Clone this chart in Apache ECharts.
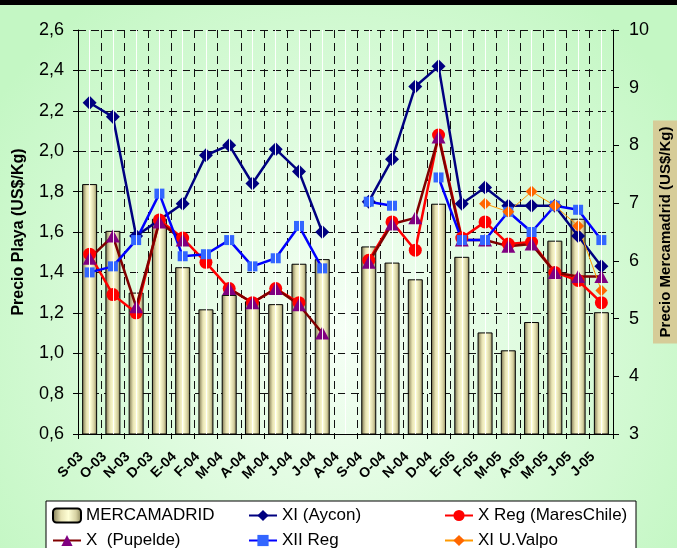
<!DOCTYPE html>
<html>
<head>
<meta charset="utf-8">
<script src="https://cdn.jsdelivr.net/npm/echarts@6/dist/echarts.min.js"></script>
<style>html,body{margin:0;padding:0;}#c{width:677px;height:548px;}</style>
</head>
<body>
<div id="c"></div>
<script>
var categories = ['S-03','O-03','N-03','D-03','E-04','F-04','M-04','A-04','M-04','J-04','J-04','A-04','S-04','O-04','N-04','D-04','E-05','F-05','M-05','A-05','M-05','J-05','J-05'];
var mercamadrid = [7.33, 6.52, 5.45, 6.73, 5.89, 5.16, 5.41, 5.30, 5.25, 5.95, 6.03, null, 6.25, 5.97, 5.68, 6.99, 6.07, 4.76, 4.45, 4.94, 6.35, 6.73, 5.11];
var aycon = [2.24, 2.17, 1.58, 1.66, 1.74, 1.98, 2.03, 1.84, 2.01, 1.90, 1.60, null, 1.75, 1.96, 2.32, 2.42, 1.74, 1.82, 1.73, 1.73, 1.73, 1.58, 1.43];
var maresChile = [1.49, 1.29, 1.20, 1.66, 1.57, 1.45, 1.32, 1.25, 1.32, 1.25, null, null, 1.46, 1.65, 1.51, 2.08, 1.57, 1.65, 1.54, 1.55, 1.40, 1.36, 1.25];
var pupelde = [1.47, 1.58, 1.23, 1.65, 1.56, null, 1.32, 1.25, 1.32, 1.24, 1.10, null, 1.45, 1.64, 1.67, 2.07, 1.56, 1.56, 1.53, 1.54, 1.40, 1.38, 1.38];
var xiiReg = [1.40, 1.43, 1.56, 1.79, 1.48, 1.49, 1.56, 1.43, 1.47, 1.63, 1.42, null, 1.75, 1.73, null, 1.87, 1.56, 1.56, 1.70, 1.60, 1.73, 1.71, 1.56];
var uValpo = [null, null, null, null, null, null, null, null, null, null, null, null, null, null, null, null, null, 1.74, 1.70, 1.80, 1.73, 1.63, 1.31];
var leftTicks = {min: 0.6, max: 2.6, interval: 0.2};
var rightTicks = {min: 3, max: 10, interval: 1};

var FONT = "'Liberation Sans', Arial, sans-serif";
var chart = echarts.init(document.getElementById('c'));
var barGrad = new echarts.graphic.LinearGradient(0, 0, 1, 0, [
  {offset: 0, color: '#77714c'},
  {offset: 0.3, color: '#e8e3b4'},
  {offset: 0.55, color: '#ffffd6'},
  {offset: 0.8, color: '#d6d1a2'},
  {offset: 1, color: '#858055'}
]);
var option = {
  animation: false,
  backgroundColor: new echarts.graphic.RadialGradient(0.5, 0.6, 0.75, [
    {offset: 0, color: '#f6fff6'},
    {offset: 1, color: '#c4f7c4'}
  ]),
  graphic: [{type: 'rect', left: 0, top: 0, shape: {width: 677, height: 5}, style: {fill: '#000'}}],
  grid: {left: 78, right: 64, top: 30, bottom: 114, outerBoundsMode: 'none', containLabel: false},
  legend: {
    left: 46, top: 501, width: 600,
    padding: [6, 4, 12, 6],
    backgroundColor: '#ffffff', borderColor: '#000', borderWidth: 1,
    itemWidth: 28, itemHeight: 14, itemGap: 8,
    textStyle: {fontFamily: FONT, fontSize: 17, color: '#000', width: 154, lineHeight: 17},
    data: ['MERCAMADRID', 'XI (Aycon)', 'X Reg (MaresChile)', 'X  (Pupelde)', 'XII Reg', 'XI U.Valpo']
  },
  xAxis: {
    type: 'category', data: categories, boundaryGap: true,
    axisLine: {lineStyle: {color: '#000', width: 1}},
    axisTick: {show: true, length: 5, lineStyle: {color: '#000'}},
    axisLabel: {interval: 0, rotate: 45, margin: 12, padding: [0, 12, 0, 0], fontFamily: FONT, fontSize: 14, fontWeight: 'bold', color: '#000'},
    splitLine: {show: true, lineStyle: {color: '#111', type: [8, 5], width: 1}}
  },
  yAxis: [{
    type: 'value', min: leftTicks.min, max: leftTicks.max, interval: leftTicks.interval,
    name: 'Precio Playa (US$/Kg)', nameLocation: 'middle', nameGap: 51, nameRotate: 90, nameMoveOverlap: false,
    nameTextStyle: {fontFamily: FONT, fontSize: 16, fontWeight: 'bold', color: '#000'},
    axisLine: {show: true, lineStyle: {color: '#000'}},
    axisTick: {show: true, length: 5, lineStyle: {color: '#000'}},
    axisLabel: {margin: 14, fontFamily: FONT, fontSize: 18, color: '#000',
      formatter: function (v) { return v.toFixed(1).replace('.', ','); }},
    splitLine: {show: true, lineStyle: {color: '#111', type: [8, 5], width: 1}}
  }, {
    type: 'value', min: rightTicks.min, max: rightTicks.max, interval: rightTicks.interval, position: 'right',
    name: 'Precio Mercamadrid (US$/Kg)', nameLocation: 'middle', nameGap: 40, nameRotate: 90, nameMoveOverlap: false,
    nameTextStyle: {fontFamily: FONT, fontSize: 15, fontWeight: 'bold', color: '#000',
      backgroundColor: '#d6cc98', padding: [5, 6, 4, 6]},
    axisLine: {show: true, lineStyle: {color: '#000'}},
    axisTick: {show: true, length: 6, lineStyle: {color: '#000'}},
    axisLabel: {margin: 16, fontFamily: FONT, fontSize: 18, color: '#000'},
    splitLine: {show: false}
  }],
  series: [{
    type: 'line', data: categories.map(function () { return null; }), silent: true, z: 0,
    markLine: {silent: true, symbol: 'none', label: {show: false},
      lineStyle: {color: 'rgba(255,255,255,0.95)', type: 'solid', width: 1},
      data: categories.map(function (c, i) { return {xAxis: i}; })}
  }, {
    name: 'MERCAMADRID', type: 'bar', yAxisIndex: 1, data: mercamadrid, barWidth: 15,
    itemStyle: {color: barGrad, borderColor: '#000', borderWidth: 1}
  }, {
    name: 'XI (Aycon)', type: 'line', data: aycon, symbol: 'diamond', symbolSize: 14,
    lineStyle: {color: '#000080', width: 2.5}, itemStyle: {color: '#000080'}
  }, {
    name: 'X Reg (MaresChile)', type: 'line', data: maresChile, symbol: 'circle', symbolSize: 13,
    lineStyle: {color: '#ff0000', width: 2.5}, itemStyle: {color: '#ff0000'}
  }, {
    name: 'X  (Pupelde)', type: 'line', data: pupelde, symbol: 'triangle', symbolSize: [14, 13],
    lineStyle: {color: '#800000', width: 2.5}, itemStyle: {color: '#800080'}
  }, {
    name: 'XII Reg', type: 'line', data: xiiReg, symbol: 'rect', symbolSize: 10,
    lineStyle: {color: '#0000ff', width: 2.5}, itemStyle: {color: '#3366ff'}
  }, {
    name: 'XI U.Valpo', type: 'line', data: uValpo, symbol: 'diamond', symbolSize: 12,
    lineStyle: {color: '#ff9900', width: 1}, itemStyle: {color: '#ff6600'}
  }]
};
chart.setOption(option);
</script>
</body>
</html>
